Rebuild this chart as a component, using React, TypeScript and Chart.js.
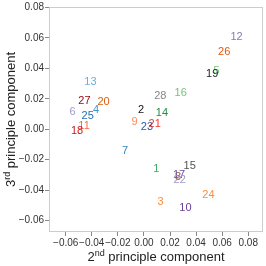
import React, { useEffect, useRef } from "react";
import { Chart, registerables } from "chart.js";

Chart.register(...registerables);

const pointLabels = ["1","2","3","4","5","6","7","8","9","10","11","12","13","14","15","16","17","18","19","20","21","22","23","24","25","26","27","28"];
const pc2 = [0.0095,-0.0023,0.0128,-0.0367,0.0556,-0.0548,-0.0144,0.0262,-0.0072,0.0318,-0.0459,0.0710,-0.0410,0.0138,0.0351,0.0282,0.0269,-0.0513,0.0523,-0.0310,0.0082,0.0274,0.0023,0.0495,-0.0431,0.0615,-0.0456,0.0126];
const pc3 = [-0.0258,0.0124,-0.0476,0.0126,0.0382,0.0112,-0.0145,-0.0314,0.0047,-0.0520,0.0024,0.0609,0.0312,0.0106,-0.0240,0.0240,-0.0303,-0.0009,0.0360,0.0180,0.0034,-0.0336,0.0013,-0.0434,0.0089,0.0509,0.0187,0.0219];
const pointColors = ["#41ab5d","#111111","#fd8d3c","#4292c6","#74c476","#9e9ac8","#3182bd","#a0522d","#fc8d59","#6a3d9a","#fb6a4a","#807dba","#6baed6","#238b45","#555555","#74c476","#6a51a3","#cb181d","#222222","#d95f0e","#ef3b2c","#9e9ac8","#2c5a9e","#fd8d3c","#2171b5","#e6550d","#99000d","#888888"];
const xRange = [-0.0728, 0.0913];
const yRange = [-0.0675, 0.0803];

const FONT = "'Liberation Sans', Arial, sans-serif";

const labelPlugin = {
  id: "labelPlugin",
  afterDatasetsDraw(chart: any) {
    const ctx = chart.ctx;
    const meta = chart.getDatasetMeta(0);
    ctx.save();
    ctx.font = `11px ${FONT}`;
    ctx.textAlign = "center";
    ctx.textBaseline = "middle";
    meta.data.forEach((el: any, i: number) => {
      ctx.fillStyle = pointColors[i];
      ctx.fillText(pointLabels[i], el.x, el.y);
    });
    ctx.restore();
  },
};

function drawSupTitle(ctx: any, base: string, sup: string, rest: string, cx: number, cy: number, rot: number) {
  ctx.save();
  ctx.translate(cx, cy);
  ctx.rotate(rot);
  ctx.fillStyle = "#222";
  ctx.textBaseline = "alphabetic";
  ctx.textAlign = "left";
  const big = `13px ${FONT}`;
  const small = `9px ${FONT}`;
  ctx.font = big;
  const w1 = ctx.measureText(base).width;
  const w3 = ctx.measureText(rest).width;
  ctx.font = small;
  const w2 = ctx.measureText(sup).width;
  const total = w1 + w2 + w3;
  let x = -total / 2;
  const y = 5;
  ctx.font = big;
  ctx.fillText(base, x, y);
  x += w1;
  ctx.font = small;
  ctx.fillText(sup, x, y - 5);
  x += w2;
  ctx.font = big;
  ctx.fillText(rest, x, y);
  ctx.restore();
}

const framePlugin = {
  id: "framePlugin",
  afterDraw(chart: any) {
    const { ctx, chartArea } = chart;
    ctx.save();
    ctx.strokeStyle = "#cccccc";
    ctx.lineWidth = 1;
    ctx.strokeRect(Math.round(chartArea.left) + 0.5, Math.round(chartArea.top) + 0.5, Math.round(chartArea.right - chartArea.left) - 1, Math.round(chartArea.bottom - chartArea.top) - 1);
    ctx.restore();
    const cxm = (chartArea.left + chartArea.right) / 2;
    const cym = (chartArea.top + chartArea.bottom) / 2;
    drawSupTitle(ctx, "2", "nd", " principle component", cxm, 256, 0);
    drawSupTitle(ctx, "3", "rd", " principle component", 10, cym, -Math.PI / 2);
  },
};

const fmt = (v: number) => {
  const s = Math.abs(v).toFixed(2);
  return (v < -1e-9 ? "\u2212" : "") + s;
};

export default function App() {
  const ref = useRef<HTMLCanvasElement>(null);
  useEffect(() => {
    document.body.style.margin = "0";
    const data = pc2.map((x, i) => ({ x, y: pc3[i] }));
    const chart = new Chart(ref.current!, {
      type: "scatter",
      data: { datasets: [{ data, pointRadius: 0, pointHoverRadius: 0 }] },
      options: {
        animation: false,
        responsive: false,
        events: [],
        layout: { padding: { top: 4, right: 3, left: 0, bottom: 0 } },
        plugins: { legend: { display: false }, tooltip: { enabled: false } },
        scales: {
          x: {
            type: "linear",
            min: xRange[0],
            max: xRange[1],
            afterFit: (s: any) => { s.height = 34; },
            grid: { drawOnChartArea: false, drawTicks: true, tickLength: 4, tickColor: "#888", color: "#ccc" },
            border: { display: false },
            ticks: { stepSize: 0.02, includeBounds: false, padding: 1, color: "#333", font: { size: 10, family: FONT }, maxRotation: 0, autoSkip: false, callback: (v: any) => fmt(Number(v)) },
          },
          y: {
            type: "linear",
            min: yRange[0],
            max: yRange[1],
            afterFit: (s: any) => { s.width = 49; },
            grid: { drawOnChartArea: false, drawTicks: true, tickLength: 4, tickColor: "#888", color: "#ccc" },
            border: { display: false },
            ticks: { stepSize: 0.02, includeBounds: false, padding: 1, color: "#333", font: { size: 10, family: FONT }, autoSkip: false, callback: (v: any) => fmt(Number(v)) },
          },
        },
      },
      plugins: [labelPlugin, framePlugin],
    });
    return () => chart.destroy();
  }, []);
  return (
    <div style={{ width: 266, height: 266 }}>
      <canvas ref={ref} width={266} height={266} />
    </div>
  );
}
